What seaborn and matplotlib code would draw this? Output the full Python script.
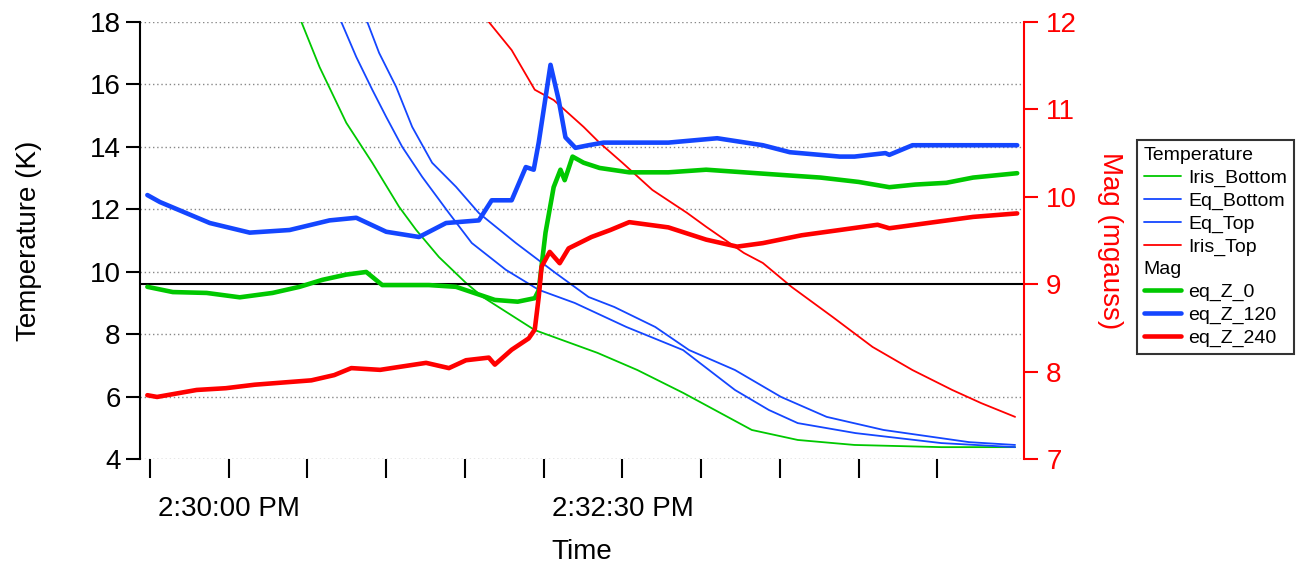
import numpy as np
import pandas as pd
import matplotlib
matplotlib.use("Agg")
import matplotlib.pyplot as plt
import seaborn as sns
from matplotlib.lines import Line2D
from matplotlib.ticker import FixedLocator, FixedFormatter

# ---------------- data (time in seconds after 2:29:30 PM) ----------------
iris_bottom_t = [-1, 30, 57.7, 64.6, 74.8, 84.7, 94.9, 101.4, 110.1, 120.4, 126.8, 146.6,
                 170.5, 185.7, 203.1, 229.3, 246.8, 268.4, 301.5, 329.6]
iris_bottom_v = [27.0, 22.0, 18.0, 16.56, 14.77, 13.49, 12.08, 11.34, 10.47, 9.64, 9.19, 8.13,
                 7.40, 6.85, 6.12, 4.93, 4.61, 4.45, 4.38, 4.38]

eq_bottom_t = [-1, 40, 72.9, 78.6, 84.7, 90.0, 96.1, 103.7, 113.9, 122.6, 135.6, 148.1, 161.8,
               181.5, 203.1, 222.9, 235.8, 246.8, 268.8, 301.5, 329.6]
eq_bottom_v = [28.0, 22.5, 18.0, 16.88, 15.83, 14.96, 14.0, 13.04, 11.88, 10.92, 10.06, 9.42, 9.0,
               8.23, 7.49, 6.21, 5.57, 5.15, 4.83, 4.51, 4.38]

eq_top_t = [-1, 45, 82.8, 87.3, 93.8, 99.9, 107.5, 116.6, 125.3, 139.4, 154.5, 167.1, 176.9,
            192.5, 205.4, 222.9, 240.4, 257.8, 279.5, 312.1, 329.6]
eq_top_v = [29.0, 23.0, 18.0, 17.01, 15.92, 14.64, 13.49, 12.72, 11.88, 10.92, 9.96, 9.19, 8.87,
            8.23, 7.49, 6.85, 5.99, 5.35, 4.93, 4.54, 4.45]

iris_top_t = [-1, 80, 129.1, 137.8, 146.6, 153.8, 165.2, 171.3, 180.0, 191.4, 204.7, 211.9,
              226.3, 233.5, 244.5, 260.1, 275.3, 290.5, 305.7, 316.7, 329.6]
iris_top_v = [34.0, 23.0, 18.0, 17.1, 15.83, 15.5, 14.64, 14.13, 13.49, 12.62, 11.88, 11.44,
              10.6, 10.28, 9.51, 8.55, 7.59, 6.85, 6.21, 5.79, 5.35]

eq_z0_t = [-1, 8.7, 21.6, 34.2, 46.7, 57.0, 65.7, 74.8, 82.4, 88.5, 106.3, 116.6, 131.4, 140.1,
           146.6, 148.1, 150.7, 153.8, 156.4, 158.0, 161.0, 165.2, 171.3, 182.6, 197.5, 211.9,
           226.3, 240.7, 255.5, 270.0, 281.7, 291.6, 303.4, 313.6, 330.4]
eq_z0_v = [8.97, 8.91, 8.90, 8.85, 8.90, 8.97, 9.05, 9.11, 9.14, 8.99, 8.99, 8.97, 8.82, 8.80,
           8.84, 8.93, 9.59, 10.11, 10.31, 10.19, 10.46, 10.39, 10.33, 10.28, 10.28, 10.31,
           10.28, 10.25, 10.22, 10.17, 10.11, 10.14, 10.16, 10.22, 10.27]

eq_z120_t = [-1, 3.8, 14.1, 22.8, 38.0, 53.2, 68.4, 78.6, 90.0, 102.5, 112.8, 125.3, 130.2, 137.8,
             143.2, 146.2, 148.1, 152.6, 155.7, 158.3, 162.1, 167.1, 172.8, 197.5, 216.1, 233.5,
             243.8, 262.8, 268.4, 280.2, 281.7, 290.5, 313.6, 330.4]
eq_z120_v = [10.02, 9.94, 9.81, 9.70, 9.59, 9.62, 9.73, 9.76, 9.60, 9.54, 9.70, 9.73, 9.96, 9.96,
             10.34, 10.31, 10.62, 11.51, 11.11, 10.68, 10.56, 10.59, 10.62, 10.62, 10.67, 10.59,
             10.51, 10.46, 10.46, 10.50, 10.48, 10.59, 10.59, 10.59]

eq_z240_t = [-1, 2.7, 17.8, 28.9, 39.9, 52.8, 61.5, 70.2, 76.7, 87.7, 94.2, 105.2, 113.9, 120.4,
             129.1, 131.4, 137.8, 144.3, 146.6, 148.1, 149.2, 152.3, 156.1, 159.5, 168.2, 175.4,
             182.6, 197.5, 211.9, 223.7, 233.5, 248.3, 262.8, 277.2, 281.7, 298.8, 313.6, 330.4]
eq_z240_v = [7.73, 7.71, 7.79, 7.81, 7.85, 7.88, 7.90, 7.96, 8.04, 8.02, 8.05, 8.10, 8.04, 8.13,
             8.16, 8.08, 8.25, 8.38, 8.48, 8.85, 9.20, 9.37, 9.24, 9.41, 9.54, 9.62, 9.71, 9.65,
             9.51, 9.43, 9.47, 9.56, 9.62, 9.68, 9.64, 9.71, 9.77, 9.81]

mag_ref_level = 9.0
x_tick_positions = [0, 30, 60, 90, 120, 150, 180, 210, 240, 270, 300]
x_tick_labels = ["", "2:30:00 PM", "", "", "", "", "2:32:30 PM", "", "", "", ""]
left_ticks = [4, 6, 8, 10, 12, 14, 16, 18]
right_ticks = [7, 8, 9, 10, 11, 12]

# ---------------- styling ----------------
sns.set_style("white")
plt.rcParams["font.family"] = ["Liberation Sans", "DejaVu Sans"]
plt.rcParams["text.color"] = "black"
plt.rcParams["axes.labelcolor"] = "black"

GREEN = "#00C800"
BLUE = "#1446FF"
RED = "#FF0000"

fig = plt.figure(figsize=(12.96, 5.70), dpi=100)
ax = fig.add_axes([140 / 1296, (570 - 459) / 570, (1024 - 140) / 1296, (459 - 22) / 570])
ax2 = ax.twinx()

temp_series = [("Iris_Bottom", iris_bottom_t, iris_bottom_v, GREEN),
               ("Eq_Bottom", eq_bottom_t, eq_bottom_v, BLUE),
               ("Eq_Top", eq_top_t, eq_top_v, BLUE),
               ("Iris_Top", iris_top_t, iris_top_v, RED)]
mag_series = [("eq_Z_0", eq_z0_t, eq_z0_v, GREEN),
              ("eq_Z_120", eq_z120_t, eq_z120_v, BLUE),
              ("eq_Z_240", eq_z240_t, eq_z240_v, RED)]

temp_handles = []
for name, t, v, c in temp_series:
    sns.lineplot(x=t, y=v, ax=ax, color=c, lw=1.3, sort=False, estimator=None)
    temp_handles.append(Line2D([], [], color=c, lw=1.3))

mag_handles = []
for name, t, v, c in mag_series:
    sns.lineplot(x=t, y=v, ax=ax2, color=c, lw=3.3, sort=False, estimator=None)
    mag_handles.append(Line2D([], [], color=c, lw=3.3))

ax2.axhline(mag_ref_level, color="black", lw=1.5, zorder=1)

# axes limits
ax.set_xlim(-3.8, 333)
ax.set_ylim(4, 18)
ax2.set_ylim(7, 12)

# grid
ax.yaxis.grid(True, linestyle=(0, (1, 2)), color="#888888", lw=1.0)
ax.xaxis.grid(False)
ax2.grid(False)

# ticks
ax.set_yticks(left_ticks)
ax2.set_yticks(right_ticks)
ax.xaxis.set_major_locator(FixedLocator(x_tick_positions))
ax.xaxis.set_major_formatter(FixedFormatter(x_tick_labels))
ax.tick_params(axis="y", which="major", direction="out", length=10, width=1.5,
               labelsize=20, colors="black", pad=4, left=True)
ax.tick_params(axis="x", which="major", direction="out", length=14, width=1.5,
               labelsize=20, colors="black", pad=13, bottom=True)
ax2.tick_params(axis="y", which="major", direction="out", length=10, width=1.5,
                labelsize=20, colors=RED, pad=6, right=True)

for s in ["top", "right"]:
    ax.spines[s].set_visible(False)
ax.spines["left"].set_linewidth(1.5)
ax.spines["left"].set_color("black")
ax.spines["bottom"].set_visible(False)
for s in ["top", "left", "bottom"]:
    ax2.spines[s].set_visible(False)
ax2.spines["right"].set_color(RED)
ax2.spines["right"].set_linewidth(1.5)

ax.set_xlabel("Time", fontsize=20, labelpad=12, color="black")
ax.set_ylabel("Temperature (K)", fontsize=20, labelpad=34, color="black")
ax2.set_ylabel("Mag (mgauss)", fontsize=20, color=RED, rotation=-90, labelpad=33)

# legend
blank = Line2D([], [], color="none")
handles = [blank] + temp_handles + [blank] + mag_handles
labels = ["Temperature"] + [s[0] for s in temp_series] + ["Mag"] + [s[0] for s in mag_series]
leg = fig.legend(handles, labels, loc="upper left", bbox_to_anchor=(1137 / 1296, 1 - 140 / 570),
                 frameon=True, fancybox=False, edgecolor="black", fontsize=14,
                 handlelength=1.9, handletextpad=0.4, borderpad=0.35, labelspacing=0.26,
                 borderaxespad=0)
leg.get_frame().set_linewidth(1.5)
for txt in leg.get_texts():
    txt.set_color("black")
header_idx = {0, 5}
rows = []
for col in leg._legend_handle_box.get_children():
    rows.extend(col.get_children())
for i, row in enumerate(rows):
    if i in header_idx:
        row.get_children()[0].width = 0
        row.sep = 0

fig.savefig("out.png", dpi=100)
